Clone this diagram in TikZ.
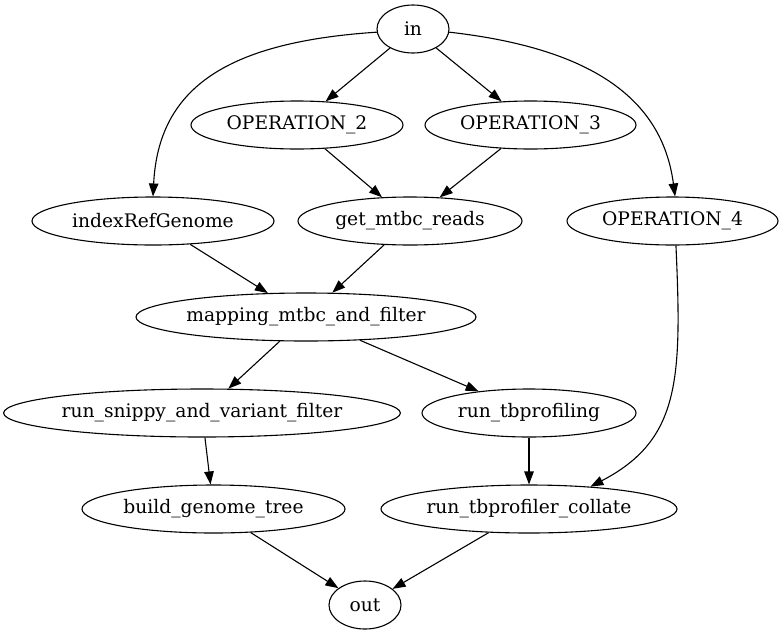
\documentclass[tikz,border=0pt]{standalone}
\usepackage{fontspec}
\setmainfont{DejaVu Serif}
\usetikzlibrary{shapes.geometric,arrows.meta}
\begin{document}
\begin{tikzpicture}[x=1pt,y=-1pt,
  nd/.style={draw,ellipse,line width=1.1pt,inner sep=0pt,minimum height=48pt,
    font=\fontsize{18.67}{22}\selectfont},
  edge/.style={line width=1.1pt,-{Triangle[length=13pt,width=9.5pt]}}]
\useasboundingbox (0,0) rectangle (783,635);
\node[nd,minimum width=72pt]  (in)  at (413,29) {in};
\node[nd,minimum width=212pt] (op2) at (297,125) {OPERATION\_2};
\node[nd,minimum width=211pt] (op3) at (530.5,125) {OPERATION\_3};
\node[nd,minimum width=242pt] (idx) at (153,221) {indexRefGenome};
\node[nd,minimum width=224pt] (get) at (410,221) {get\_mtbc\_reads};
\node[nd,minimum width=211pt] (op4) at (672.5,221) {OPERATION\_4};
\node[nd,minimum width=340pt] (map) at (306,317) {mapping\_mtbc\_and\_filter};
\node[nd,minimum width=394pt] (snp) at (202,413) {run\_snippy\_and\_variant\_filter};
\node[nd,minimum width=214pt] (tbp) at (529,413) {run\_tbprofiling};
\node[nd,minimum width=263pt] (bgt) at (213.5,509) {build\_genome\_tree};
\node[nd,minimum width=296pt] (col) at (529,509) {run\_tbprofiler\_collate};
\node[nd,minimum width=72pt]  (out) at (365,605) {out};

\draw[edge] (in) -- (op2);
\draw[edge] (in) -- (op3);
\draw[edge] (in.185) .. controls (228,42) and (158.5,87) .. (idx.north);
\draw[edge] (in.-5) .. controls (589,48) and (662,97) .. (op4.84);
\draw[edge] (op2) -- (get);
\draw[edge] (op3) -- (get);
\draw[edge] (idx) -- (map);
\draw[edge] (get) -- (map);
\draw[edge] (map) -- (snp);
\draw[edge] (map) -- (tbp);
\draw[edge] (op4.-82) .. controls (682,380) and (680,440) .. (col.20);
\draw[edge] (snp) -- (bgt);
\draw[edge] (tbp) -- (col);
\draw[edge] (bgt) -- (out);
\draw[edge] (col) -- (out);
\end{tikzpicture}
\end{document}
